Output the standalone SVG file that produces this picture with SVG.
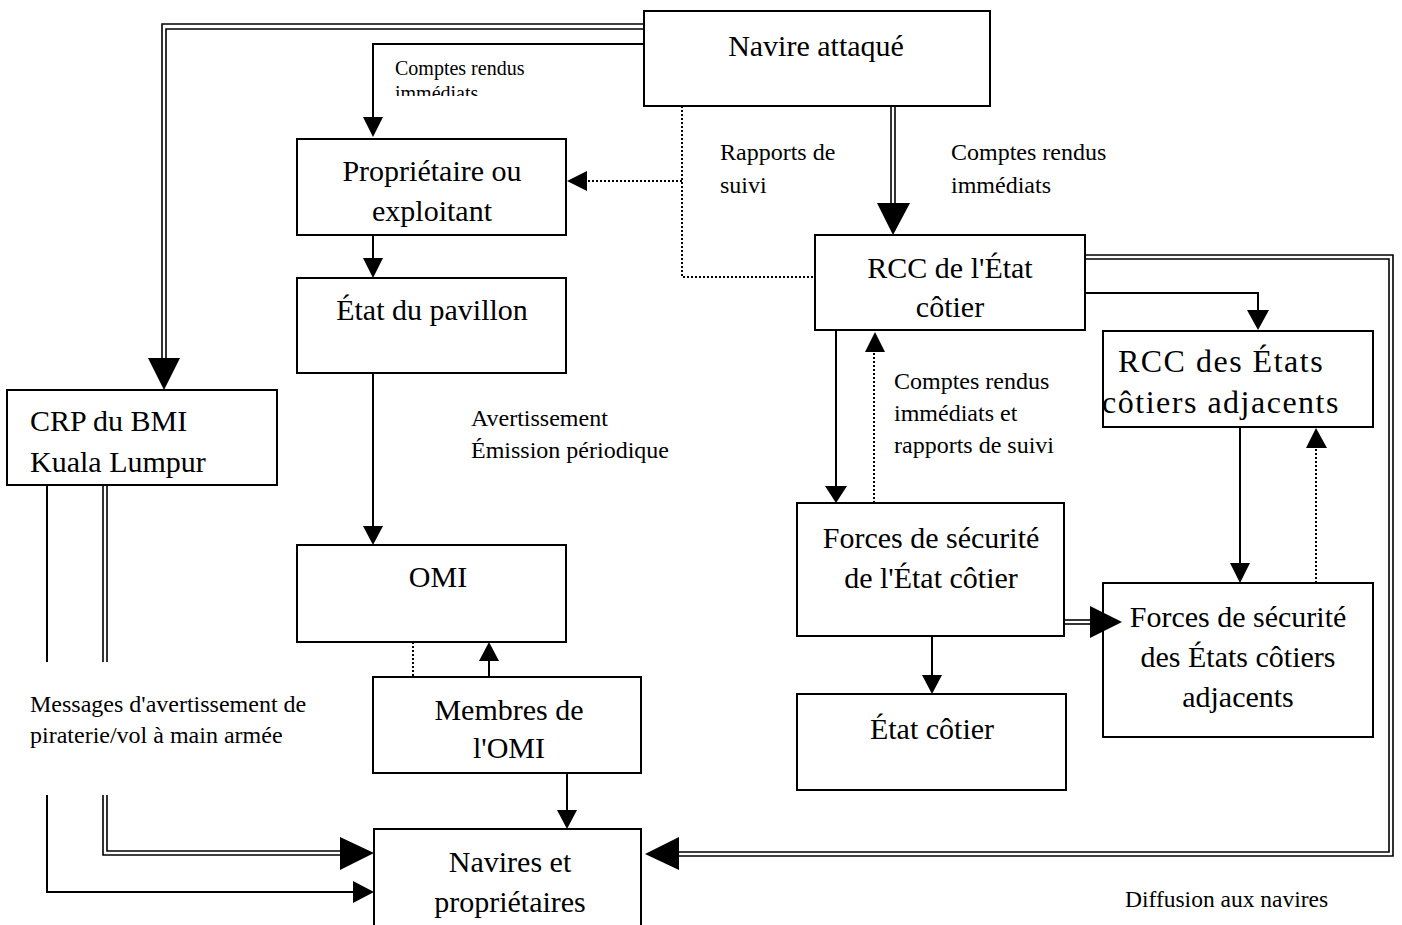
<svg xmlns="http://www.w3.org/2000/svg" width="1402" height="925" viewBox="0 0 1402 925">
<style>
.box{fill:#fff;stroke:#000;stroke-width:2}
.ln{fill:none;stroke:#000;stroke-width:2}
.dl{fill:none;stroke:#000;stroke-width:1.6}
.dot{fill:none;stroke:#000;stroke-width:2;stroke-dasharray:2 2}
.ah{fill:#000;stroke:none}
.t{font-family:"Liberation Serif","Times New Roman",serif;font-size:30px;fill:#000;text-anchor:middle}
.lb{font-family:"Liberation Serif","Times New Roman",serif;font-size:24px;fill:#000}
.sm{font-family:"Liberation Serif","Times New Roman",serif;font-size:20px;fill:#000}
</style>
<defs>
<clipPath id="clipLbl"><rect x="380" y="50" width="262" height="46"/></clipPath>
</defs>
<rect width="1402" height="925" fill="#fff"/>

<g id="connectors">
  <!-- Navire -> Propriétaire -->
  <path class="ln" d="M644,44 H373 V118"/>
  <polygon class="ah" points="363,117 383,117 373,137"/>
  <!-- Navire -> CRP (double) -->
  <path class="dl" d="M644,24 H162 V360"/>
  <path class="dl" d="M644,29 H166 V360"/>
  <polygon class="ah" points="148,358 180,358 164,390"/>
  <!-- Navire -> RCC (double) -->
  <path class="dl" d="M891,106 V205"/>
  <path class="dl" d="M895,106 V205"/>
  <polygon class="ah" points="877,203 910,203 893,235"/>
  <!-- dotted rapports de suivi -->
  <path class="dot" d="M682,106 V277 H815"/>
  <path class="dot" d="M682,181 H586"/>
  <polygon class="ah" points="587,171 587,191 567,181"/>
  <!-- Propriétaire -> État du pavillon -->
  <path class="ln" d="M373,235 V259"/>
  <polygon class="ah" points="363,258 383,258 373,278"/>
  <!-- État du pavillon -> OMI -->
  <path class="ln" d="M373,373 V527"/>
  <polygon class="ah" points="363,526 383,526 373,545"/>
  <!-- Membres -> OMI -->
  <path class="ln" d="M489,677 V658"/>
  <polygon class="ah" points="479,661 499,661 489,642"/>
  <path class="dot" d="M413,642 V677"/>
  <!-- Membres -> Navires -->
  <path class="ln" d="M567,773 V811"/>
  <polygon class="ah" points="557,810 577,810 567,829"/>
  <!-- CRP -> Navires single -->
  <path class="ln" d="M47,485 V662"/>
  <path class="ln" d="M47,795 V892 H355"/>
  <polygon class="ah" points="353,881 353,903 374,892"/>
  <!-- CRP -> Navires double -->
  <path class="dl" d="M103,485 V662"/>
  <path class="dl" d="M107,485 V662"/>
  <path class="dl" d="M103,795 V855 H342"/>
  <path class="dl" d="M107,795 V851 H342"/>
  <polygon class="ah" points="340,837 340,870 374,853"/>
  <!-- RCC -> Navires double (right loop) -->
  <path class="dl" d="M1085,255 H1393 V856 H676"/>
  <path class="dl" d="M1085,259 H1389 V852 H676"/>
  <polygon class="ah" points="679,837 679,870 645,854"/>
  <!-- RCC -> RCC adjacents -->
  <path class="ln" d="M1085,293 H1258 V312"/>
  <polygon class="ah" points="1247,310 1269,310 1258,330"/>
  <!-- RCC -> Forces -->
  <path class="ln" d="M836,330 V488"/>
  <polygon class="ah" points="825,486 847,486 836,503"/>
  <!-- Forces -> RCC dotted -->
  <path class="dot" d="M874,503 V350"/>
  <polygon class="ah" points="865,352 885,352 875,332"/>
  <!-- RCC adj -> Forces adj -->
  <path class="ln" d="M1240,427 V565"/>
  <polygon class="ah" points="1230,563 1250,563 1240,583"/>
  <!-- Forces adj -> RCC adj dotted -->
  <path class="dot" d="M1316,583 V446"/>
  <polygon class="ah" points="1306,448 1327,448 1316,428"/>
  <!-- Forces -> État côtier -->
  <path class="ln" d="M932,636 V676"/>
  <polygon class="ah" points="922,675 942,675 932,694"/>
  <!-- Forces -> Forces adj double -->
  <path class="dl" d="M1064,620 H1092"/>
  <path class="dl" d="M1064,624 H1092"/>
</g>

<g id="navire-attaque"><rect class="box" x="644" y="11" width="346" height="95"/><text class="t" x="816" y="56">Navire attaqué</text></g>
<g id="proprietaire"><rect class="box" x="297" y="139" width="269" height="96"/><text class="t" x="432" y="181">Propriétaire ou</text><text class="t" x="432" y="221">exploitant</text></g>
<g id="etat-pavillon"><rect class="box" x="297" y="278" width="269" height="95"/><text class="t" x="432" y="320">État du pavillon</text></g>
<g id="crp"><rect class="box" x="7" y="390" width="270" height="95"/><text class="t" x="30" y="431" style="text-anchor:start">CRP du BMI</text><text class="t" x="30" y="472" style="text-anchor:start">Kuala Lumpur</text></g>
<g id="omi"><rect class="box" x="297" y="545" width="269" height="97"/><text class="t" x="438" y="587">OMI</text></g>
<g id="membres-omi"><rect class="box" x="373" y="677" width="268" height="96"/><text class="t" x="509" y="720">Membres de</text><text class="t" x="509" y="758">l'OMI</text></g>
<g id="navires-proprietaires"><rect class="box" x="374" y="829" width="267" height="110"/><text class="t" x="510" y="872">Navires et</text><text class="t" x="510" y="912">propriétaires</text></g>
<g id="rcc-cotier"><rect class="box" x="815" y="235" width="270" height="95"/><text class="t" x="950" y="278">RCC de l'État</text><text class="t" x="950" y="317">côtier</text></g>
<g id="rcc-adjacents"><rect class="box" x="1103" y="331" width="270" height="96"/><text class="t" x="1221" y="372" style="font-size:32px;letter-spacing:1.5px">RCC des États</text><text class="t" x="1221" y="413" style="font-size:32px;letter-spacing:1.5px">côtiers adjacents</text></g>
<g id="forces-cotier"><rect class="box" x="797" y="503" width="267" height="133"/><text class="t" x="931" y="548">Forces de sécurité</text><text class="t" x="931" y="588">de l'État côtier</text></g>
<g id="etat-cotier"><rect class="box" x="797" y="694" width="269" height="96"/><text class="t" x="932" y="739">État côtier</text></g>
<g id="forces-adjacents"><rect class="box" x="1103" y="583" width="270" height="154"/><text class="t" x="1238" y="627">Forces de sécurité</text><text class="t" x="1238" y="667">des États côtiers</text><text class="t" x="1238" y="707">adjacents</text></g>

<g id="arrow-forces-adj">
  <polygon class="ah" points="1090,606 1090,638 1122,622"/>
</g>

<g id="labels">
  <g clip-path="url(#clipLbl)">
    <text class="sm" x="395" y="75">Comptes rendus</text>
    <text class="sm" x="395" y="100">immédiats</text>
  </g>
  <text class="lb" x="720" y="160">Rapports de</text>
  <text class="lb" x="720" y="193">suivi</text>
  <text class="lb" x="951" y="160">Comptes rendus</text>
  <text class="lb" x="951" y="193">immédiats</text>
  <text class="lb" x="471" y="426">Avertissement</text>
  <text class="lb" x="471" y="458">Émission périodique</text>
  <text class="lb" x="894" y="389">Comptes rendus</text>
  <text class="lb" x="894" y="421">immédiats et</text>
  <text class="lb" x="894" y="453">rapports de suivi</text>
  <text class="lb" x="30" y="712">Messages d'avertissement de</text>
  <text class="lb" x="30" y="743">piraterie/vol à main armée</text>
  <text class="lb" x="1125" y="907" style="font-size:23.5px">Diffusion aux navires</text>
</g>
</svg>
